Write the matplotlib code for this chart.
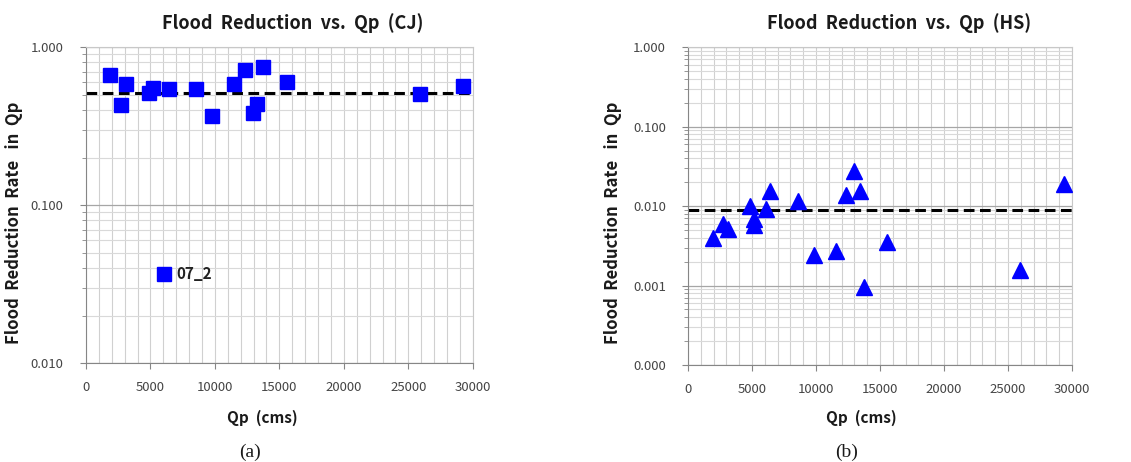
import matplotlib
matplotlib.use('Agg')
import matplotlib.pyplot as plt
from matplotlib.ticker import LogLocator, FixedLocator, FuncFormatter, MultipleLocator

# CJ basin: peak discharge vs flood reduction rate
cj_qp = [1890, 2710, 3130, 4860, 5190, 6410, 8550, 9790, 11500, 12330,
         12920, 13280, 13700, 15580, 25920, 29250]
cj_rate = [0.668, 0.430, 0.583, 0.516, 0.550, 0.542, 0.545, 0.367, 0.583, 0.719,
           0.382, 0.438, 0.744, 0.598, 0.507, 0.564]
cj_outlier_qp = 6020
cj_outlier_rate = 0.0367
cj_outlier_label = '07_2'
cj_mean = 0.511

# HS basin
hs_qp = [1960, 2740, 3160, 4850, 5170, 5170, 6080, 6440, 8610, 9810,
         11530, 12340, 12940, 13410, 13720, 15570, 25930, 29350]
hs_rate = [0.00402, 0.00603, 0.00516, 0.00995, 0.00697, 0.00574, 0.0093, 0.0155,
           0.0115, 0.00241, 0.0027, 0.0137, 0.0274, 0.0154, 0.00096, 0.00348,
           0.00156, 0.0192]
hs_mean = 0.00904

x_ticks = [0, 5000, 10000, 15000, 20000, 25000, 30000]

TITLE_FONT = ['Noto Sans CJK KR', 'DejaVu Sans']
TICK_COLOR = '#454545'
BLUE = '#0000ff'


def style_axes(ax, ymin, ymax):
    ax.set_yscale('log')
    ax.set_xlim(0, 30000)
    ax.set_ylim(ymin, ymax)
    ax.xaxis.set_major_locator(FixedLocator(x_ticks))
    ax.xaxis.set_minor_locator(MultipleLocator(1000))
    ax.yaxis.set_major_locator(LogLocator(base=10, numticks=10))
    ax.yaxis.set_minor_locator(LogLocator(base=10, subs=range(2, 10), numticks=10))
    ax.yaxis.set_major_formatter(FuncFormatter(lambda v, p: f'{v:.3f}'))
    ax.yaxis.set_minor_formatter(FuncFormatter(lambda v, p: ''))
    ax.grid(which='major', axis='y', color='#a6a6a6', lw=0.9)
    ax.grid(which='minor', axis='y', color='#d9d9d9', lw=0.8)
    ax.grid(which='both', axis='x', color='#d0d0d0', lw=0.8)
    ax.set_axisbelow(True)
    for side in ['top', 'right']:
        ax.spines[side].set_color('#c8c8c8')
    for side in ['left', 'bottom']:
        ax.spines[side].set_color('#868686')
    ax.tick_params(which='both', direction='out', color='#868686', labelcolor=TICK_COLOR,
                   labelsize=9.5)
    ax.tick_params(which='major', length=4)
    ax.tick_params(which='minor', length=0)
    ax.tick_params(axis='y', which='minor', length=3)
    ax.tick_params(axis='x', pad=9)
    ax.tick_params(axis='y', pad=12)
    for lab in ax.get_xticklabels() + ax.get_yticklabels():
        lab.set_family(TITLE_FONT)


fig = plt.figure(figsize=(11.31, 4.62), dpi=100)
ax1 = fig.add_axes([0.076, 0.214, 0.342, 0.684])
ax2 = fig.add_axes([0.6083, 0.210, 0.3395, 0.688])

# (a) CJ
style_axes(ax1, 0.01, 1.0)
ax1.plot(cj_qp, cj_rate, 's', color=BLUE, ms=10, mec=BLUE, zorder=3)
ax1.plot([cj_outlier_qp], [cj_outlier_rate], 's', color=BLUE, ms=10, zorder=3)
ax1.annotate(cj_outlier_label, (cj_outlier_qp, cj_outlier_rate), xytext=(9, 0),
             textcoords='offset points', va='center', ha='left', fontsize=11,
             fontweight='bold', family=TITLE_FONT, color='#222222')
ax1.axhline(cj_mean, color='black', ls=(0, (3.5, 1.8)), lw=2.2, zorder=2)

# (b) HS
style_axes(ax2, 0.0001, 1.0)
ax2.plot(hs_qp, hs_rate, '^', color=BLUE, ms=12, zorder=3)
ax2.axhline(hs_mean, color='black', ls=(0, (3.5, 1.8)), lw=2.2, zorder=2)

# titles and labels placed to match the original layout
for cx, title in [(293 / 1131, 'Flood  Reduction  vs.  Qp  (CJ)'),
                  (899 / 1131, 'Flood  Reduction  vs.  Qp  (HS)')]:
    fig.text(cx, 1 - 23 / 462, title, ha='center', va='center', fontsize=13,
             fontweight='bold', family=TITLE_FONT, color='#1a1a1a')
for cx in [262 / 1131, 861 / 1131]:
    fig.text(cx, 1 - 418 / 462, 'Qp  (cms)', ha='center', va='center', fontsize=11,
             fontweight='bold', family=TITLE_FONT, color='#1a1a1a')
for cx in [14 / 1131, 613 / 1131]:
    fig.text(cx, 1 - 223 / 462, 'Flood  Reduction  Rate   in  Qp', ha='center', va='center',
             rotation=90, fontsize=12, fontweight='bold', family=TITLE_FONT, color='#1a1a1a')
for cx, tag in [(250 / 1131, '(a)'), (847 / 1131, '(b)')]:
    fig.text(cx, 1 - 452 / 462, tag, ha='center', va='center', fontsize=14,
             family=['Liberation Serif', 'DejaVu Serif'], color='#1a1a1a')

fig.savefig('out.png', dpi=100, facecolor='white')
